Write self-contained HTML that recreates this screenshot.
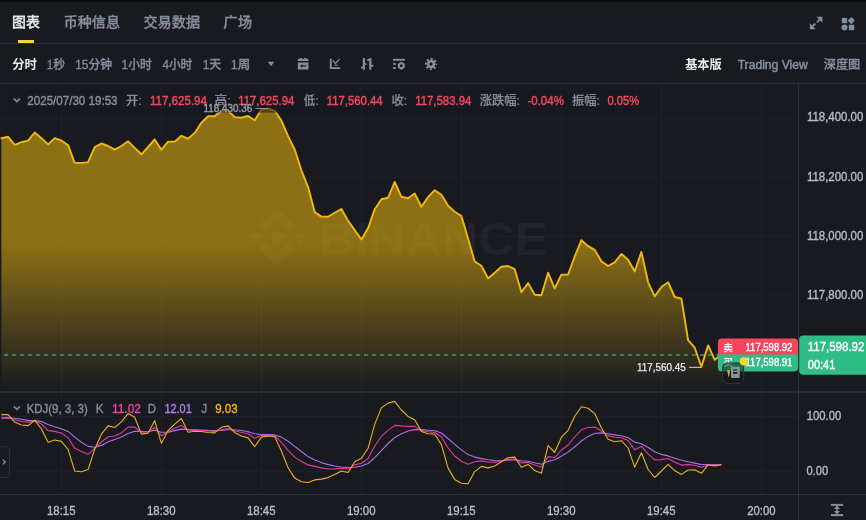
<!DOCTYPE html>
<html lang="zh-CN"><head><meta charset="utf-8"><title>chart</title>
<style>
html,body{margin:0;padding:0;background:#181a20;}
body{width:866px;height:520px;position:relative;overflow:hidden;font-family:"Liberation Sans","Noto Sans CJK SC",sans-serif;}
.tx{position:absolute;left:0;white-space:nowrap;transform-origin:0 50%;display:block;}
.abs{position:absolute;}
svg{position:absolute;left:0;top:0;}
</style></head><body>
<svg width="866" height="520" viewBox="0 0 866 520">
<defs>
<linearGradient id="ag" gradientUnits="userSpaceOnUse" x1="0" y1="84" x2="0" y2="391">
<stop offset="0" stop-color="#f0b90b" stop-opacity="0.545"/>
<stop offset="0.52" stop-color="#f0b90b" stop-opacity="0.54"/>
<stop offset="1" stop-color="#f0b90b" stop-opacity="0"/>
</linearGradient>
<clipPath id="mainclip"><rect x="0" y="84" width="798" height="307"/></clipPath>
<clipPath id="kdjclip"><rect x="0" y="393" width="798" height="101"/></clipPath>
</defs>
<rect x="0" y="0" width="866" height="2" fill="#0b0e11"/>
<path d="M0 2 H3 A3 3 0 0 0 0 5 Z" fill="#0b0e11"/>
<rect x="0" y="43" width="866" height="1" fill="#2b3139"/>
<rect x="0" y="83" width="866" height="1" fill="#2b3139"/>
<rect x="18" y="40" width="16" height="3" fill="#fcd535"/>
<rect x="61" y="84" width="1" height="410" fill="#1e2228"/>
<rect x="161" y="84" width="1" height="410" fill="#1e2228"/>
<rect x="261" y="84" width="1" height="410" fill="#1e2228"/>
<rect x="361" y="84" width="1" height="410" fill="#1e2228"/>
<rect x="461" y="84" width="1" height="410" fill="#1e2228"/>
<rect x="561" y="84" width="1" height="410" fill="#1e2228"/>
<rect x="661" y="84" width="1" height="410" fill="#1e2228"/>
<rect x="761" y="84" width="1" height="410" fill="#1e2228"/>
<rect x="0" y="117.60" width="798" height="1" fill="#1e2228"/>
<rect x="0" y="176.95" width="798" height="1" fill="#1e2228"/>
<rect x="0" y="236.10" width="798" height="1" fill="#1e2228"/>
<rect x="0" y="295.30" width="798" height="1" fill="#1e2228"/>
<rect x="0" y="354.50" width="798" height="1" fill="#1e2228"/>
<rect x="0" y="415.95" width="798" height="1" fill="#1e2228"/>
<rect x="0" y="470.80" width="798" height="1" fill="#1e2228"/>
<g fill="#8a93a3" fill-opacity="0.075">
<path d="M277 230 L284 237 L277 244 L270 237 Z M254 230.5 L260.5 237 L254 243.5 L247.5 237 Z M300 230.5 L306.5 237 L300 243.5 L293.5 237 Z"/>
<path d="M277 208 L295 226 L288.5 232.5 L277 221 L265.5 232.5 L259 226 Z"/>
<path d="M277 266 L295 248 L288.5 241.5 L277 253 L265.5 241.5 L259 248 Z"/>
<text x="319" y="254.5" font-family="Liberation Sans, sans-serif" font-weight="700" font-size="46.5" textLength="229" lengthAdjust="spacingAndGlyphs">BINANCE</text>
</g>
<g clip-path="url(#mainclip)"><polygon points="1.4,391 1.4,138.3 8.1,136.8 14.7,144.9 21.4,142.1 28.1,140.6 34.7,132.5 41.4,138.3 48.1,144.4 54.7,138.1 61.4,140.4 68.1,145.2 74.7,162.9 81.4,162.9 88.1,162.2 94.7,147.2 101.4,143.5 108.1,146.0 114.7,149.7 121.4,146.0 128.1,141.3 134.7,147.9 141.4,154.3 148.1,147.0 154.7,139.5 161.4,149.7 168.1,141.6 174.7,141.6 181.4,135.8 188.1,138.7 194.7,132.9 201.4,122.7 208.1,116.3 214.7,116.3 221.4,110.8 228.1,110.8 234.7,117.1 241.4,117.7 248.1,116.0 254.7,120.3 261.4,109.6 268.1,108.5 274.7,110.8 281.4,120.6 288.1,136.2 294.7,149.5 301.4,170.3 308.1,187.1 314.7,212.1 321.4,216.6 328.1,216.7 334.7,212.8 341.4,209.0 348.1,220.9 354.7,230.1 361.4,239.5 368.1,228.1 374.7,209.3 381.4,199.2 388.1,197.7 394.7,182.0 401.4,196.8 408.1,198.2 414.7,193.5 421.4,206.7 428.1,197.1 434.7,190.2 441.4,194.8 448.1,205.8 454.7,211.7 461.4,216.0 468.1,238.7 474.7,261.5 481.4,265.7 488.1,278.5 494.7,272.7 501.4,266.7 508.1,266.0 514.7,269.2 521.4,292.3 528.1,283.1 534.7,294.7 541.4,295.2 548.1,272.7 554.7,288.5 561.4,274.7 568.1,274.5 574.7,256.6 581.4,240.2 588.1,246.2 594.7,249.9 601.4,261.2 608.1,266.0 614.7,262.3 621.4,254.0 628.1,259.8 634.7,271.5 641.4,251.9 648.1,282.3 654.7,296.4 661.4,287.1 668.1,282.2 674.7,297.0 681.4,298.7 688.1,340.2 694.7,347.7 701.4,366.8 708.1,345.4 714.7,359.8 721.4,354.6 721.4,391" fill="url(#ag)"/>
<polyline points="1.4,138.3 8.1,136.8 14.7,144.9 21.4,142.1 28.1,140.6 34.7,132.5 41.4,138.3 48.1,144.4 54.7,138.1 61.4,140.4 68.1,145.2 74.7,162.9 81.4,162.9 88.1,162.2 94.7,147.2 101.4,143.5 108.1,146.0 114.7,149.7 121.4,146.0 128.1,141.3 134.7,147.9 141.4,154.3 148.1,147.0 154.7,139.5 161.4,149.7 168.1,141.6 174.7,141.6 181.4,135.8 188.1,138.7 194.7,132.9 201.4,122.7 208.1,116.3 214.7,116.3 221.4,110.8 228.1,110.8 234.7,117.1 241.4,117.7 248.1,116.0 254.7,120.3 261.4,109.6 268.1,108.5 274.7,110.8 281.4,120.6 288.1,136.2 294.7,149.5 301.4,170.3 308.1,187.1 314.7,212.1 321.4,216.6 328.1,216.7 334.7,212.8 341.4,209.0 348.1,220.9 354.7,230.1 361.4,239.5 368.1,228.1 374.7,209.3 381.4,199.2 388.1,197.7 394.7,182.0 401.4,196.8 408.1,198.2 414.7,193.5 421.4,206.7 428.1,197.1 434.7,190.2 441.4,194.8 448.1,205.8 454.7,211.7 461.4,216.0 468.1,238.7 474.7,261.5 481.4,265.7 488.1,278.5 494.7,272.7 501.4,266.7 508.1,266.0 514.7,269.2 521.4,292.3 528.1,283.1 534.7,294.7 541.4,295.2 548.1,272.7 554.7,288.5 561.4,274.7 568.1,274.5 574.7,256.6 581.4,240.2 588.1,246.2 594.7,249.9 601.4,261.2 608.1,266.0 614.7,262.3 621.4,254.0 628.1,259.8 634.7,271.5 641.4,251.9 648.1,282.3 654.7,296.4 661.4,287.1 668.1,282.2 674.7,297.0 681.4,298.7 688.1,340.2 694.7,347.7 701.4,366.8 708.1,345.4 714.7,359.8 721.4,354.6" fill="none" stroke="#f0b90b" stroke-width="1.9" stroke-linejoin="round" stroke-linecap="round"/></g>
<rect x="8" y="89" width="643" height="23.6" fill="#181a20" fill-opacity="0.55"/>
<line x1="4" y1="355" x2="798" y2="355" stroke="#2ebd85" stroke-opacity="0.8" stroke-width="1.3" stroke-dasharray="4 4"/>
<rect x="255.4" y="108" width="12.4" height="1" fill="#8d939d"/>
<rect x="689" y="366.8" width="12.4" height="1" fill="#d9dce1"/>
<rect x="0" y="391" width="866" height="2" fill="#252930"/>
<rect x="0" y="494" width="866" height="1" fill="#2b3139"/>
<rect x="798" y="84" width="1" height="436" fill="#2b3139"/>
<g clip-path="url(#kdjclip)" fill="none" stroke-width="1.1" stroke-linejoin="round">
<polyline points="1.4,418.3 8.1,417.9 14.7,418.3 21.4,419.2 28.1,420.4 34.7,420.6 41.4,421.5 48.1,424.4 54.7,426.7 61.4,428.7 68.1,431.4 74.7,437.1 81.4,442.3 88.1,446.4 94.7,447.2 101.4,445.4 108.1,441.8 114.7,439.6 121.4,437.0 128.1,433.5 134.7,431.2 141.4,431.4 148.1,431.8 154.7,430.3 161.4,432.3 168.1,432.3 174.7,430.6 181.4,429.1 188.1,429.5 194.7,429.8 201.4,430.1 208.1,430.4 214.7,430.5 221.4,430.4 228.1,429.8 234.7,429.8 241.4,430.5 248.1,431.7 254.7,433.7 261.4,434.5 268.1,434.6 274.7,434.9 281.4,437.1 288.1,441.2 294.7,446.4 301.4,451.5 308.1,456.6 314.7,460.0 321.4,462.6 328.1,464.6 334.7,466.0 341.4,467.0 348.1,467.5 354.7,467.2 361.4,466.0 368.1,463.5 374.7,457.7 381.4,450.6 388.1,443.5 394.7,437.5 401.4,433.8 408.1,431.0 414.7,429.6 421.4,429.6 428.1,430.2 434.7,430.8 441.4,433.0 448.1,438.5 454.7,444.4 461.4,449.9 468.1,454.6 474.7,457.1 481.4,458.6 488.1,459.8 494.7,460.6 501.4,460.7 508.1,460.3 514.7,459.8 521.4,460.7 528.1,461.3 534.7,462.7 541.4,464.3 548.1,461.4 554.7,459.8 561.4,456.2 568.1,452.1 574.7,446.8 581.4,441.0 588.1,436.4 594.7,433.5 601.4,432.9 608.1,433.7 614.7,434.9 621.4,435.7 628.1,437.7 634.7,442.1 641.4,443.7 648.1,447.5 654.7,451.8 661.4,454.4 668.1,455.9 674.7,458.3 681.4,460.2 688.1,461.7 694.7,463.1 701.4,464.5 708.1,464.5 714.7,464.6 721.4,464.7" stroke="#a873e8"/>
<polyline points="1.4,417.5 8.1,417.2 14.7,419.8 21.4,421.5 28.1,422.1 34.7,420.6 41.4,423.9 48.1,430.6 54.7,431.4 61.4,433.1 68.1,437.7 74.7,448.1 81.4,451.6 88.1,454.3 94.7,448.1 101.4,442.0 108.1,436.7 114.7,436.0 121.4,432.9 128.1,427.1 134.7,427.1 141.4,432.3 148.1,432.3 154.7,427.5 161.4,435.8 168.1,431.8 174.7,428.3 181.4,425.4 188.1,430.0 194.7,430.6 201.4,430.6 208.1,431.0 214.7,431.4 221.4,429.8 228.1,428.5 234.7,430.8 241.4,432.5 248.1,433.7 254.7,438.3 261.4,435.6 268.1,435.2 274.7,435.6 281.4,442.3 288.1,450.4 294.7,457.1 301.4,461.4 308.1,464.9 314.7,466.4 321.4,467.9 328.1,469.0 334.7,468.9 341.4,468.3 348.1,469.0 354.7,464.9 361.4,463.3 368.1,458.6 374.7,446.0 381.4,436.2 388.1,430.4 394.7,425.4 401.4,425.9 408.1,426.4 414.7,426.4 421.4,430.6 428.1,431.7 434.7,432.5 441.4,437.0 448.1,448.0 454.7,456.0 461.4,461.2 468.1,464.3 474.7,461.8 481.4,460.9 488.1,462.3 494.7,462.3 501.4,460.9 508.1,459.4 514.7,459.1 521.4,462.9 528.1,462.4 534.7,465.1 541.4,467.2 548.1,456.6 554.7,457.5 561.4,450.0 568.1,445.0 574.7,437.0 581.4,429.8 588.1,427.5 594.7,427.1 601.4,430.9 608.1,435.6 614.7,437.2 621.4,437.7 628.1,440.6 634.7,449.8 641.4,446.4 648.1,453.9 654.7,459.9 661.4,459.6 668.1,458.5 674.7,462.0 681.4,465.1 688.1,464.6 694.7,465.2 701.4,467.4 708.1,464.8 714.7,465.2 721.4,464.8" stroke="#e43a9e"/>
<polyline points="1.4,414.6 8.1,414.6 14.7,422.1 21.4,425.0 28.1,425.6 34.7,420.2 41.4,429.0 48.1,442.3 54.7,440.0 61.4,441.4 68.1,449.3 74.7,471.0 81.4,471.7 88.1,469.6 94.7,449.3 101.4,434.2 108.1,425.6 114.7,427.5 121.4,421.9 128.1,413.6 134.7,417.3 141.4,434.1 148.1,433.3 154.7,420.6 161.4,443.3 168.1,430.6 174.7,424.2 181.4,418.5 188.1,432.3 194.7,431.2 201.4,431.5 208.1,432.5 214.7,432.9 221.4,427.3 228.1,425.9 234.7,432.5 241.4,436.0 248.1,437.9 254.7,446.7 261.4,437.1 268.1,436.0 274.7,436.8 281.4,451.0 288.1,467.7 294.7,478.1 301.4,481.8 308.1,482.5 314.7,479.9 321.4,479.1 328.1,477.6 334.7,474.5 341.4,471.0 348.1,472.5 354.7,461.8 361.4,458.3 368.1,448.3 374.7,424.4 381.4,407.9 388.1,403.1 394.7,401.4 401.4,410.0 408.1,416.4 414.7,419.8 421.4,431.4 428.1,433.7 434.7,434.3 441.4,444.6 448.1,468.1 454.7,479.4 461.4,483.3 468.1,483.7 474.7,471.6 481.4,466.4 488.1,467.9 494.7,466.0 501.4,461.8 508.1,457.7 514.7,457.1 521.4,467.2 528.1,464.4 534.7,470.5 541.4,473.3 548.1,445.6 554.7,452.5 561.4,437.2 568.1,430.3 574.7,416.2 581.4,406.7 588.1,408.3 594.7,413.6 601.4,427.7 608.1,439.3 614.7,441.8 621.4,440.7 628.1,448.0 634.7,467.1 641.4,452.7 648.1,469.5 654.7,477.5 661.4,471.0 668.1,464.3 674.7,470.6 681.4,474.4 688.1,470.0 694.7,469.8 701.4,473.3 708.1,464.8 714.7,466.0 721.4,464.8" stroke="#e9b11a"/>
</g>
<path d="M717.9 354 V367.4 a4 4 0 0 0 4 4 H794 a4 4 0 0 0 4 -4 V354 Z" fill="#2ebd85"/>
<path d="M717.9 354.5 V342.6 a4 4 0 0 1 4 -4 H794 a4 4 0 0 1 4 4 V354.5 Z" fill="#f6465d"/>
<rect x="799.2" y="335.4" width="72" height="39.3" rx="4" fill="#2ebd85"/>
<path d="M0 446.8 H6 a3.5 3.5 0 0 1 3.5 3.5 V474 a3.5 3.5 0 0 1 -3.5 3.5 H0" fill="#181a20" stroke="#2b3139" stroke-width="1"/>
<path d="M2.8 459.6 l2.4 2.4 l-2.4 2.4" fill="none" stroke="#848e9c" stroke-width="1.3"/>
<path d="M13.9 98.6 l3 3 l3 -3" fill="none" stroke="#848e9c" stroke-width="1.5"/>
<path d="M13.9 406.4 l3 3 l3 -3" fill="none" stroke="#848e9c" stroke-width="1.5"/>
<g fill="#848e9c"><path d="M816.4 16.8 H822.4 V22.8 Z"/><path d="M809.8 23.2 V29.2 H815.8 Z"/></g>
<g stroke="#848e9c" stroke-width="1.9" fill="none"><path d="M816.9 22.3 L820.6 18.6"/><path d="M811.6 27.4 L815.3 23.7"/></g>
<g fill="#848e9c"><rect x="841.8" y="17.9" width="5.4" height="5.3"/><rect x="848.8" y="24.8" width="5.5" height="5.4"/><circle cx="844.5" cy="27.5" r="3"/><path d="M851.3 17 L854.8 20.6 L851.3 24.2 L847.7 20.6 Z"/></g>
<path d="M267.6 61.8 H274.4 L271 66.2 Z" fill="#848e9c"/>
<g fill="#848e9c"><rect x="297.8" y="58.9" width="10.6" height="2.1"/><rect x="299.7" y="58" width="2.1" height="1.2"/><rect x="304.3" y="58" width="2.1" height="1.2"/><path d="M297.8 62.4 H308.4 V69.4 H297.8 Z M300 65.9 L302.3 64.2 V65.3 H306.3 V66.6 H302.3 V67.7 Z" fill-rule="evenodd"/></g>
<g fill="none" stroke="#848e9c"><path d="M330.8 58.6 V68.1 H340.2" stroke-width="1.9"/><path d="M333 60.3 L335.4 63.4 L339.6 59.1" stroke-width="1.3"/><path d="M334.4 65.2 H337.8" stroke-width="1"/></g>
<g fill="#848e9c"><rect x="362.8" y="58.1" width="2.2" height="11.6"/><rect x="361.1" y="66.6" width="2" height="1.9"/><rect x="364.8" y="63.3" width="1.7" height="1.6"/><rect x="369.2" y="58.1" width="2.2" height="11.6"/><rect x="367.3" y="59" width="2.2" height="1.9"/><rect x="371.2" y="64.8" width="2" height="2"/></g>
<g fill="#848e9c"><rect x="393" y="58.8" width="11.9" height="1.9"/><rect x="393" y="63.1" width="2.9" height="1.7"/><rect x="393" y="67.2" width="2.9" height="1.8"/><path d="M401.3 61.7 L404.8 63.7 V67.7 L401.3 69.7 L397.8 67.7 V63.7 Z M401.3 64.3 a1.4 1.4 0 1 0 0.001 0 Z" fill-rule="evenodd"/></g>
<path d="M431 59.7 a4.3 4.3 0 1 0 0.001 0 Z M431 62.1 L432.9 64 L431 65.9 L429.1 64 Z" fill="#848e9c" fill-rule="evenodd"/>
<circle cx="431" cy="64" r="5.2" fill="none" stroke="#848e9c" stroke-width="1.9" stroke-dasharray="2.042 2.042" stroke-dashoffset="1.021"/>
<g fill="#848e9c"><rect x="830.9" y="503.9" width="12.2" height="2"/><rect x="830.9" y="514.1" width="12.2" height="2"/><rect x="836.2" y="506" width="1.6" height="8"/><path d="M837 505.6 L840.1 509 H833.9 Z"/><path d="M837 514.4 L840.1 510.9 H833.9 Z"/></g>
</svg>
<nav class="tabs">
<span class="tx" id="t1" style="top:12px;font-size:14px;line-height:21px;color:#eaecef;font-weight:500;-webkit-text-stroke:0.3px #eaecef;transform:translateX(11.98px) scaleX(0.9971)">图表</span>
<span class="tx" id="t2" style="top:12px;font-size:14px;line-height:21px;color:#848e9c;font-weight:500;-webkit-text-stroke:0.3px #848e9c;transform:translateX(63.75px) scaleX(1.0038)">币种信息</span>
<span class="tx" id="t3" style="top:12px;font-size:14px;line-height:21px;color:#848e9c;font-weight:500;-webkit-text-stroke:0.3px #848e9c;transform:translateX(143.49px) scaleX(1.0092)">交易数据</span>
<span class="tx" id="t4" style="top:12px;font-size:14px;line-height:21px;color:#848e9c;font-weight:500;-webkit-text-stroke:0.3px #848e9c;transform:translateX(223.37px) scaleX(1.0264)">广场</span>
</nav>
<div class="intervals">
<span class="tx" id="i1" style="top:56px;font-size:12px;line-height:18px;color:#eaecef;font-weight:700;transform:translateX(12.13px) scaleX(1.0325)">分时</span>
<span class="tx" id="i2" style="top:56px;font-size:12px;line-height:18px;color:#848e9c;font-weight:500;-webkit-text-stroke:0.3px #848e9c;transform:translateX(46.69px) scaleX(0.9746)">1秒</span>
<span class="tx" id="i3" style="top:56px;font-size:12px;line-height:18px;color:#848e9c;font-weight:500;-webkit-text-stroke:0.3px #848e9c;transform:translateX(75.26px) scaleX(0.9879)">15分钟</span>
<span class="tx" id="i4" style="top:56px;font-size:12px;line-height:18px;color:#848e9c;font-weight:500;-webkit-text-stroke:0.3px #848e9c;transform:translateX(121.61px) scaleX(0.9848)">1小时</span>
<span class="tx" id="i5" style="top:56px;font-size:12px;line-height:18px;color:#848e9c;font-weight:500;-webkit-text-stroke:0.3px #848e9c;transform:translateX(162.40px) scaleX(0.9739)">4小时</span>
<span class="tx" id="i6" style="top:56px;font-size:12px;line-height:18px;color:#848e9c;font-weight:500;-webkit-text-stroke:0.3px #848e9c;transform:translateX(202.67px) scaleX(0.9890)">1天</span>
<span class="tx" id="i7" style="top:56px;font-size:12px;line-height:18px;color:#848e9c;font-weight:500;-webkit-text-stroke:0.3px #848e9c;transform:translateX(230.81px) scaleX(1.0433)">1周</span>
</div>
<div class="chart-modes">
<span class="tx" id="r1" style="top:56px;font-size:12px;line-height:18px;color:#eaecef;font-weight:700;transform:translateX(685.14px) scaleX(1.0181)">基本版</span>
<span class="tx" id="r2" style="top:56px;font-size:12px;line-height:18px;color:#848e9c;font-weight:500;-webkit-text-stroke:0.5px #848e9c;transform:translateX(737.65px) scaleX(1.0107)">Trading View</span>
<span class="tx" id="r3" style="top:56px;font-size:12px;line-height:18px;color:#848e9c;font-weight:500;-webkit-text-stroke:0.3px #848e9c;transform:translateX(823.74px) scaleX(1.0147)">深度图</span>
</div>
<div class="legend-main">
<span class="tx" id="l0" style="top:92px;font-size:12px;line-height:18px;color:#848e9c;font-weight:400;-webkit-text-stroke:0.4px #848e9c;transform:translateX(27.31px) scaleX(0.9658)">2025/07/30 19:53</span>
<span class="tx" id="l1" style="top:92px;font-size:12px;line-height:18px;color:#848e9c;font-weight:500;-webkit-text-stroke:0.2px #848e9c;transform:translateX(125.92px) scaleX(1.0335)">开:</span>
<span class="tx" id="l2" style="top:92px;font-size:12px;line-height:18px;color:#f6465d;font-weight:400;-webkit-text-stroke:0.4px #f6465d;transform:translateX(149.89px) scaleX(0.9653)">117,625.94</span>
<span class="tx" id="l3" style="top:92px;font-size:12px;line-height:18px;color:#848e9c;font-weight:500;-webkit-text-stroke:0.2px #848e9c;transform:translateX(214.49px) scaleX(1.0606)">高:</span>
<span class="tx" id="l4" style="top:92px;font-size:12px;line-height:18px;color:#f6465d;font-weight:400;-webkit-text-stroke:0.4px #f6465d;transform:translateX(238.23px) scaleX(0.9480)">117,625.94</span>
<span class="tx" id="l5" style="top:92px;font-size:12px;line-height:18px;color:#848e9c;font-weight:500;-webkit-text-stroke:0.2px #848e9c;transform:translateX(303.85px) scaleX(0.9630)">低:</span>
<span class="tx" id="l6" style="top:92px;font-size:12px;line-height:18px;color:#f6465d;font-weight:400;-webkit-text-stroke:0.4px #f6465d;transform:translateX(326.79px) scaleX(0.9437)">117,560.44</span>
<span class="tx" id="l7" style="top:92px;font-size:12px;line-height:18px;color:#848e9c;font-weight:500;-webkit-text-stroke:0.2px #848e9c;transform:translateX(391.48px) scaleX(1.0194)">收:</span>
<span class="tx" id="l8" style="top:92px;font-size:12px;line-height:18px;color:#f6465d;font-weight:400;-webkit-text-stroke:0.4px #f6465d;transform:translateX(415.23px) scaleX(0.9480)">117,583.94</span>
<span class="tx" id="l9" style="top:92px;font-size:12px;line-height:18px;color:#848e9c;font-weight:500;-webkit-text-stroke:0.2px #848e9c;transform:translateX(479.68px) scaleX(1.0228)">涨跌幅:</span>
<span class="tx" id="l10" style="top:92px;font-size:12px;line-height:18px;color:#f6465d;font-weight:400;-webkit-text-stroke:0.4px #f6465d;transform:translateX(527.47px) scaleX(0.9572)">-0.04%</span>
<span class="tx" id="l11" style="top:92px;font-size:12px;line-height:18px;color:#848e9c;font-weight:500;-webkit-text-stroke:0.2px #848e9c;transform:translateX(571.94px) scaleX(1.0216)">振幅:</span>
<span class="tx" id="l12" style="top:92px;font-size:12px;line-height:18px;color:#f6465d;font-weight:400;-webkit-text-stroke:0.4px #f6465d;transform:translateX(607.57px) scaleX(0.9270)">0.05%</span>
</div>
<div class="extremes">
<span class="tx" id="h1" style="top:101px;font-size:10px;line-height:15px;color:#989ea8;font-weight:400;-webkit-text-stroke:0.4px #989ea8;transform:translateX(203.56px) scaleX(0.9873)">118,430.36</span>
<span class="tx" id="h2" style="top:360px;font-size:10px;line-height:15px;color:#e6e8ea;font-weight:400;-webkit-text-stroke:0.25px #e6e8ea;transform:translateX(637.01px) scaleX(0.9897)">117,560.45</span>
</div>
<div class="price-axis">
<span class="tx" id="p1" style="top:108px;font-size:12px;line-height:18px;color:#b7bdc6;font-weight:400;-webkit-text-stroke:0.35px #b7bdc6;transform:translateX(806.93px) scaleX(0.9530)">118,400.00</span>
<span class="tx" id="p2" style="top:168px;font-size:12px;line-height:18px;color:#b7bdc6;font-weight:400;-webkit-text-stroke:0.35px #b7bdc6;transform:translateX(806.93px) scaleX(0.9530)">118,200.00</span>
<span class="tx" id="p3" style="top:227px;font-size:12px;line-height:18px;color:#b7bdc6;font-weight:400;-webkit-text-stroke:0.35px #b7bdc6;transform:translateX(806.93px) scaleX(0.9530)">118,000.00</span>
<span class="tx" id="p4" style="top:286px;font-size:12px;line-height:18px;color:#b7bdc6;font-weight:400;-webkit-text-stroke:0.35px #b7bdc6;transform:translateX(806.93px) scaleX(0.9530)">117,800.00</span>
<span class="tx" id="p5" style="top:407px;font-size:12px;line-height:18px;color:#b7bdc6;font-weight:400;-webkit-text-stroke:0.35px #b7bdc6;transform:translateX(806.74px) scaleX(0.9399)">100.00</span>
<span class="tx" id="p6" style="top:462px;font-size:12px;line-height:18px;color:#b7bdc6;font-weight:400;-webkit-text-stroke:0.35px #b7bdc6;transform:translateX(806.47px) scaleX(0.9287)">0.00</span>
</div>
<div class="last-price">
<span class="tx" id="c1" style="top:338px;font-size:12px;line-height:18px;color:#ffffff;font-weight:500;-webkit-text-stroke:0.4px #ffffff;transform:translateX(807.73px) scaleX(0.9570)">117,598.92</span>
<span class="tx" id="c2" style="top:356px;font-size:12px;line-height:18px;color:#ffffff;font-weight:500;-webkit-text-stroke:0.4px #ffffff;transform:translateX(807.77px) scaleX(0.9153)">00:41</span>
</div>
<div class="ask">
<span class="tx" id="s1" style="top:341px;font-size:9.5px;line-height:14px;color:#ffffff;font-weight:700;transform:translateX(723.35px) scaleX(1.0281)">卖</span>
<span class="tx" id="s2" style="top:340px;font-size:10px;line-height:15px;color:#ffffff;font-weight:500;-webkit-text-stroke:0.35px #ffffff;transform:translateX(745.52px) scaleX(0.9509)">117,598.92</span>
</div>
<div class="bid">
<span class="tx" id="b1" style="top:356px;font-size:9.5px;line-height:14px;color:#ffffff;font-weight:700;transform:translateX(723.33px) scaleX(1.0298)">买</span>
<span class="tx" id="b2" style="top:355px;font-size:10px;line-height:15px;color:#ffffff;font-weight:500;-webkit-text-stroke:0.35px #ffffff;transform:translateX(745.52px) scaleX(0.9509)">117,598.91</span>
</div>
<div class="legend-kdj">
<span class="tx" id="k0" style="top:400px;font-size:12px;line-height:18px;color:#848e9c;font-weight:400;-webkit-text-stroke:0.35px #848e9c;transform:translateX(26.64px) scaleX(0.9544)">KDJ(9, 3, 3)</span>
<span class="tx" id="k1" style="top:400px;font-size:12px;line-height:18px;color:#848e9c;font-weight:400;-webkit-text-stroke:0.35px #848e9c;transform:translateX(95.83px) scaleX(0.9832)">K</span>
<span class="tx" id="k2" style="top:400px;font-size:12px;line-height:18px;color:#e8439f;font-weight:400;-webkit-text-stroke:0.35px #e8439f;transform:translateX(111.90px) scaleX(1.0001)">11.02</span>
<span class="tx" id="k3" style="top:400px;font-size:12px;line-height:18px;color:#848e9c;font-weight:400;-webkit-text-stroke:0.35px #848e9c;transform:translateX(147.87px) scaleX(0.9515)">D</span>
<span class="tx" id="k4" style="top:400px;font-size:12px;line-height:18px;color:#b47fee;font-weight:400;-webkit-text-stroke:0.35px #b47fee;transform:translateX(164.43px) scaleX(0.9103)">12.01</span>
<span class="tx" id="k5" style="top:400px;font-size:12px;line-height:18px;color:#848e9c;font-weight:400;-webkit-text-stroke:0.35px #848e9c;transform:translateX(201.28px) scaleX(0.9811)">J</span>
<span class="tx" id="k6" style="top:400px;font-size:12px;line-height:18px;color:#f0b90b;font-weight:400;-webkit-text-stroke:0.35px #f0b90b;transform:translateX(215.17px) scaleX(0.9610)">9.03</span>
</div>
<div class="time-axis">
<span class="tx" id="x0" style="top:502px;font-size:12px;line-height:18px;color:#b7bdc6;font-weight:400;-webkit-text-stroke:0.35px #b7bdc6;transform:translateX(46.95px) scaleX(0.9521)">18:15</span>
<span class="tx" id="x1" style="top:502px;font-size:12px;line-height:18px;color:#b7bdc6;font-weight:400;-webkit-text-stroke:0.35px #b7bdc6;transform:translateX(146.95px) scaleX(0.9521)">18:30</span>
<span class="tx" id="x2" style="top:502px;font-size:12px;line-height:18px;color:#b7bdc6;font-weight:400;-webkit-text-stroke:0.35px #b7bdc6;transform:translateX(246.95px) scaleX(0.9521)">18:45</span>
<span class="tx" id="x3" style="top:502px;font-size:12px;line-height:18px;color:#b7bdc6;font-weight:400;-webkit-text-stroke:0.35px #b7bdc6;transform:translateX(346.95px) scaleX(0.9521)">19:00</span>
<span class="tx" id="x4" style="top:502px;font-size:12px;line-height:18px;color:#b7bdc6;font-weight:400;-webkit-text-stroke:0.35px #b7bdc6;transform:translateX(446.95px) scaleX(0.9521)">19:15</span>
<span class="tx" id="x5" style="top:502px;font-size:12px;line-height:18px;color:#b7bdc6;font-weight:400;-webkit-text-stroke:0.35px #b7bdc6;transform:translateX(546.95px) scaleX(0.9521)">19:30</span>
<span class="tx" id="x6" style="top:502px;font-size:12px;line-height:18px;color:#b7bdc6;font-weight:400;-webkit-text-stroke:0.35px #b7bdc6;transform:translateX(646.95px) scaleX(0.9521)">19:45</span>
<span class="tx" id="x7" style="top:502px;font-size:12px;line-height:18px;color:#b7bdc6;font-weight:400;-webkit-text-stroke:0.35px #b7bdc6;transform:translateX(747.22px) scaleX(0.9438)">20:00</span>
</div>
<svg width="866" height="520" viewBox="0 0 866 520">
<rect x="722.6" y="363" width="20.9" height="20.4" rx="5" fill="#14171c" fill-opacity="0.5" stroke="#2d333b" stroke-width="1.2"/>
<rect x="723.2" y="371.6" width="19.7" height="11.2" rx="4" fill="#181a20" fill-opacity="0.6"/>
<path d="M727.2 370.3 H729.9 L729.5 374 L728.7 377.7 L727.9 374 Z" fill="#f0b90b"/>
<path d="M732 366.8 H738.7 a1 1 0 0 1 1 1 V377 a1 1 0 0 1 -1 1 H732 a1 1 0 0 1 -1 -1 V367.8 a1 1 0 0 1 1 -1 Z M733.2 369.1 V370.9 H737.3 V369.1 Z M733.2 372 V373.8 H737.3 V372 Z" fill="#8b91a0" fill-rule="evenodd"/>
<circle cx="743.9" cy="361.4" r="4.1" fill="#fcd535"/>
</svg>
</body></html>
